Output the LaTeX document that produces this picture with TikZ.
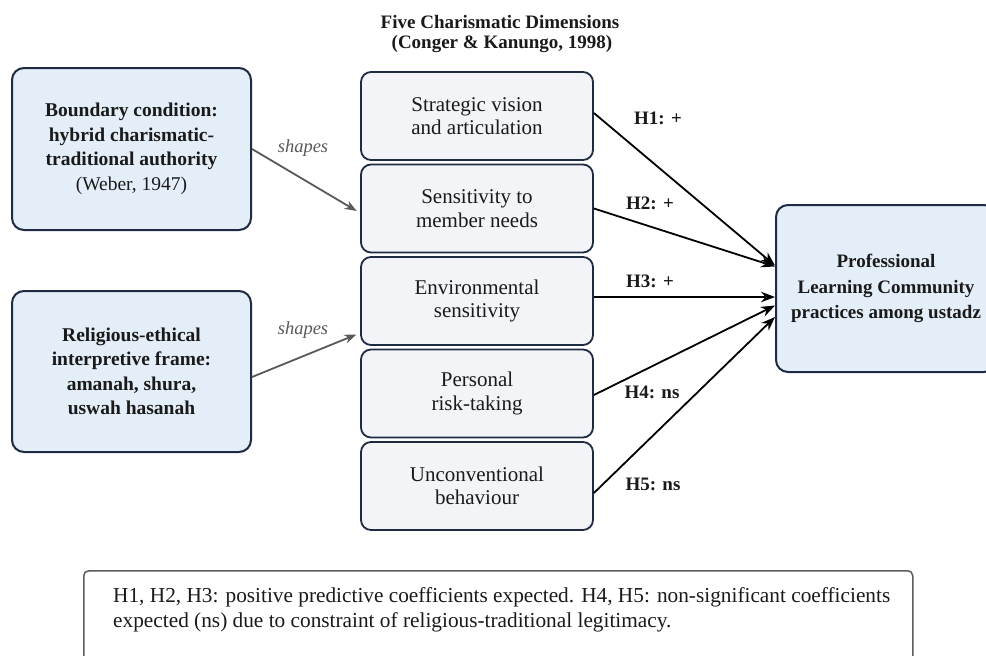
\documentclass[tikz,border=0pt]{standalone}
\usepackage{fontspec}
\setmainfont{Liberation Serif}
\usetikzlibrary{arrows.meta,calc}
\definecolor{navy}{HTML}{1F2B42}
\definecolor{lblue}{HTML}{E4EEF9}
\definecolor{lgray}{HTML}{F2F4F8}
\definecolor{txt}{HTML}{1A1A1A}
\definecolor{arrgray}{HTML}{595959}
\definecolor{notegray}{HTML}{5C5C5C}
\begin{document}
\begin{tikzpicture}[x=1pt,y=-1pt,
  lbox/.style={draw=navy, line width=2pt, fill=lblue, rounded corners=12pt,
    minimum width=239pt, minimum height=162pt, align=center, text=txt,
    font=\fontsize{19.5}{24.5}\selectfont, inner sep=0pt},
  mbox/.style={draw=navy, line width=1.8pt, fill=lgray, rounded corners=10pt,
    minimum width=232pt, minimum height=88pt, align=center, text=txt,
    font=\fontsize{21}{23.5}\selectfont, inner sep=0pt},
  rbox/.style={draw=navy, line width=2pt, fill=lblue, rounded corners=12pt,
    minimum width=220pt, minimum height=167pt, align=center, text=txt,
    font=\fontsize{19}{25.5}\selectfont\bfseries, inner sep=0pt},
  notebox/.style={draw=notegray, line width=1.5pt, fill=white, rounded corners=5pt,
    minimum width=829pt, minimum height=110pt, inner sep=0pt},
  notetext/.style={align=left, text=txt, font=\fontsize{21.3}{25}\selectfont, inner sep=0pt},
  hlabel/.style={text=txt, font=\fontsize{19}{22}\selectfont\bfseries, inner sep=0pt},
  slabel/.style={text=arrgray, font=\fontsize{18.5}{22}\selectfont\itshape, inner sep=0pt},
  title/.style={text=txt, font=\fontsize{19}{23}\selectfont\bfseries, inner sep=0pt},
  harrow/.style={draw=black, line width=1.8pt, -{Stealth[length=14pt,width=10.5pt]}},
  sarrow/.style={draw=arrgray, line width=1.8pt, -{Stealth[length=12pt,width=9pt]}}
]
\useasboundingbox (0,0) rectangle (986,656);
\clip (0,0) rectangle (986,656);
\fill[white] (0,0) rectangle (986,656);

% titles
\node[title] (t1) at (500,22) {Five Charismatic Dimensions};
\node[title] (t2) at (502,44) {(Conger \& Kanungo, 1998)};

% left boxes
\node[lbox] (lb1) at (131.5,149) {\textbf{Boundary condition:}\\\textbf{hybrid charismatic-}\\\textbf{traditional authority}\\(Weber, 1947)};
\node[lbox, minimum height=161pt] (lb2) at (131.5,371.5) {\textbf{Religious-ethical}\\\textbf{interpretive frame:}\\\textbf{amanah, shura,}\\\textbf{uswah hasanah}};

% middle boxes
\node[mbox] (m1) at (477,116) {Strategic vision\\and articulation};
\node[mbox] (m2) at (477,208.5) {Sensitivity to\\member needs};
\node[mbox] (m3) at (477,301) {Environmental\\sensitivity};
\node[mbox] (m4) at (477,393.5) {Personal\\risk-taking};
\node[mbox] (m5) at (477,486) {Unconventional\\behaviour};

% right box
\node[rbox] (plc) at (886,288.5) {Professional\\Learning Community\\practices among ustadz};

% shapes arrows
\draw[sarrow, shorten >=4pt] (lb1.east) -- ([yshift=-4.5pt]m2.west);
\node[slabel] (s1) at (303,148) {shapes};
\draw[sarrow, shorten >=4pt] ([yshift=-5.5pt]lb2.east) -- ([yshift=-32pt]m3.west);
\node[slabel] (s2) at (303,330) {shapes};

% hypothesis arrows
\draw[harrow] ([yshift=3pt]m1.east) -- ([yshift=23pt]plc.west);
\draw[harrow] (m2.east) -- ([yshift=22pt]plc.west);
\draw[harrow] ([yshift=4pt]m3.east) -- ([yshift=-8.5pt]plc.west);
\draw[harrow] ([yshift=-1.5pt]m4.east) -- ([yshift=-17pt]plc.west);
\draw[harrow] ([yshift=-7pt]m5.east) -- ([yshift=-28.5pt]plc.west);

\node[hlabel] (h1) at (658,118) {H1: +};
\node[hlabel] (h2) at (650,203) {H2: +};
\node[hlabel] (h3) at (650,281) {H3: +};
\node[hlabel] (h4) at (652,392) {H4: ns};
\node[hlabel] (h5) at (653,484) {H5: ns};

% note
\node[notebox, anchor=north west] (note) at (83,570) {};
\node[notetext, anchor=north west] (notetxt) at (113,587) {H1, H2, H3: positive predictive coefficients expected. H4, H5: non-significant coefficients\\expected (ns) due to constraint of religious-traditional legitimacy.};
\end{tikzpicture}
\end{document}
